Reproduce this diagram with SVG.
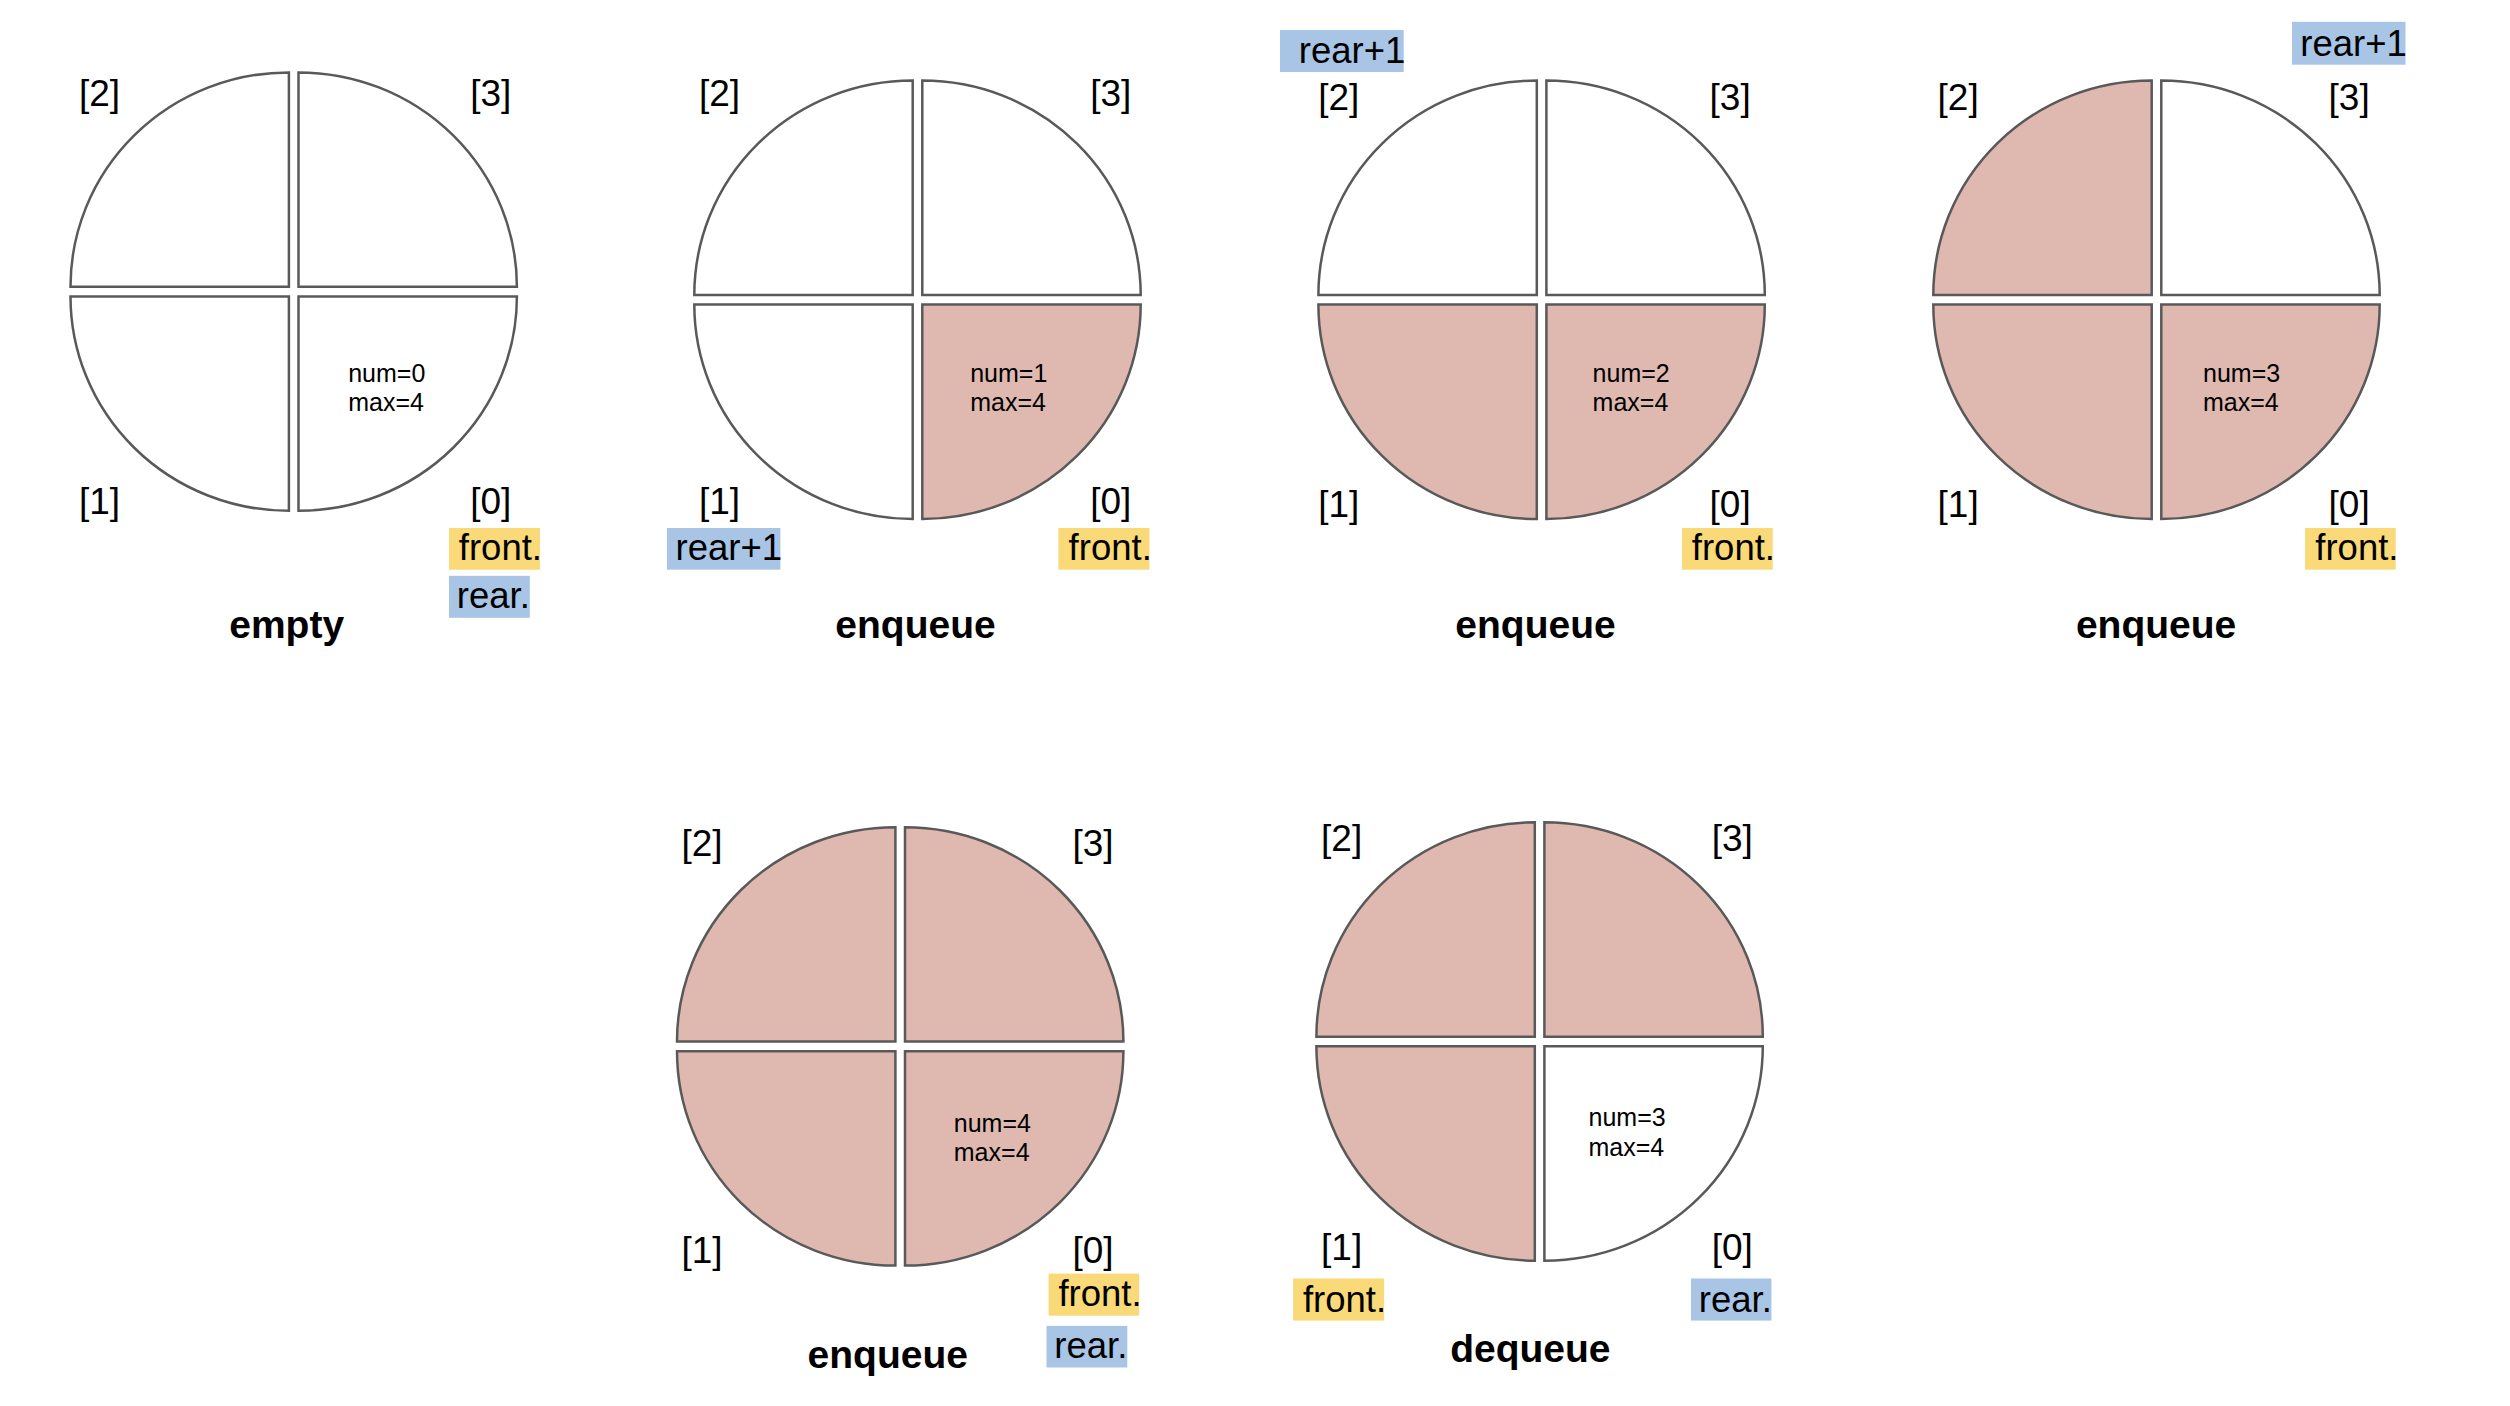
<svg xmlns="http://www.w3.org/2000/svg" xmlns:xlink="http://www.w3.org/1999/xlink" width="2510" height="1406" viewBox="0 0 2510 1406">
<style>
  .q { stroke: #595959; stroke-width: 2.5; stroke-linejoin: miter; }
  .e { fill: #ffffff; }
  .f { fill: #dfb9b0; }
  .idx { font-family: "Liberation Sans", Arial, sans-serif; font-size: 37px; fill: #000; }
  .tag { font-family: "Liberation Sans", Arial, sans-serif; font-size: 36.5px; fill: #000; }
  .info { font-family: "Liberation Sans", Arial, sans-serif; font-size: 25px; fill: #000; }
  .title { font-family: "Liberation Sans", Arial, sans-serif; font-size: 39px; font-weight: bold; fill: #000; text-anchor: middle; }
  .yel { fill: #f9d978; }
  .blu { fill: #a8c5e6; }
</style>
<defs>
  <path id="q-ul" d="M-4.8,-4.8 H-223.2 A218.4 214.4 0 0 1 -4.8,-219.2 Z"/>
  <path id="q-ur" d="M4.8,-4.8 V-219.2 A218.4 214.4 0 0 1 223.2,-4.8 Z"/>
  <path id="q-lr" d="M4.8,4.8 H223.2 A218.4 214.4 0 0 1 4.8,219.2 Z"/>
  <path id="q-ll" d="M-4.8,4.8 V219.2 A218.4 214.4 0 0 1 -223.2,4.8 Z"/>
</defs>
<rect x="0" y="0" width="2510" height="1406" fill="#ffffff"/>
<g id="connectors"/>

<g id="state-empty">
  <g transform="translate(293.7,291.6)">
    <use xlink:href="#q-ul" class="q e"/>
    <use xlink:href="#q-ur" class="q e"/>
    <use xlink:href="#q-ll" class="q e"/>
    <use xlink:href="#q-lr" class="q e"/>
  </g>
  <text class="idx" x="79" y="106">[2]</text>
  <text class="idx" x="470.2" y="106">[3]</text>
  <text class="idx" x="79" y="514">[1]</text>
  <text class="idx" x="470.2" y="514">[0]</text>
  <text class="info" x="348.2" y="381.6">num=0</text>
  <text class="info" x="348.2" y="411">max=4</text>
  <rect class="yel" x="449" y="528" width="91" height="41.7"/>
  <text class="tag" x="458.8" y="559.9">front.</text>
  <rect class="blu" x="449" y="575.8" width="80.8" height="42"/>
  <text class="tag" x="456.8" y="607.5">rear.</text>
  <text class="title" x="286.7" y="638">empty</text>
</g>

<g id="state-enqueue-1">
  <g transform="translate(917.5,299.8)">
    <use xlink:href="#q-ul" class="q e"/>
    <use xlink:href="#q-ur" class="q e"/>
    <use xlink:href="#q-ll" class="q e"/>
    <use xlink:href="#q-lr" class="q f"/>
  </g>
  <text class="idx" x="699" y="106">[2]</text>
  <text class="idx" x="1090.2" y="106">[3]</text>
  <text class="idx" x="699" y="514">[1]</text>
  <text class="idx" x="1090.2" y="514">[0]</text>
  <text class="info" x="970.2" y="381.6">num=1</text>
  <text class="info" x="970.2" y="411">max=4</text>
  <rect class="blu" x="666.9" y="528" width="113.5" height="41.7"/>
  <text class="tag" x="675.6" y="559.9">rear+1</text>
  <rect class="yel" x="1058.4" y="528" width="91" height="41.7"/>
  <text class="tag" x="1068.6" y="559.9">front.</text>
  <text class="title" x="915.5" y="638">enqueue</text>
</g>

<g id="state-enqueue-2">
  <g transform="translate(1541.6,299.8)">
    <use xlink:href="#q-ul" class="q e"/>
    <use xlink:href="#q-ur" class="q e"/>
    <use xlink:href="#q-ll" class="q f"/>
    <use xlink:href="#q-lr" class="q f"/>
  </g>
  <rect class="blu" x="1280" y="30" width="123.7" height="42"/>
  <text class="tag" x="1298.8" y="62.6">rear+1</text>
  <text class="idx" x="1318.2" y="109.5">[2]</text>
  <text class="idx" x="1709.6" y="109.5">[3]</text>
  <text class="idx" x="1318.2" y="517">[1]</text>
  <text class="idx" x="1709.6" y="517">[0]</text>
  <text class="info" x="1592.6" y="381.6">num=2</text>
  <text class="info" x="1592.6" y="411">max=4</text>
  <rect class="yel" x="1682" y="528" width="90.7" height="41.7"/>
  <text class="tag" x="1691.8" y="559.9">front.</text>
  <text class="title" x="1535.5" y="638">enqueue</text>
</g>

<g id="state-enqueue-3">
  <g transform="translate(2156.5,299.8)">
    <use xlink:href="#q-ul" class="q f"/>
    <use xlink:href="#q-ur" class="q e"/>
    <use xlink:href="#q-ll" class="q f"/>
    <use xlink:href="#q-lr" class="q f"/>
  </g>
  <rect class="blu" x="2292" y="21.8" width="113.5" height="42.9"/>
  <text class="tag" x="2300.3" y="55.7">rear+1</text>
  <text class="idx" x="1937.6" y="109.5">[2]</text>
  <text class="idx" x="2328.6" y="109.5">[3]</text>
  <text class="idx" x="1937.6" y="517">[1]</text>
  <text class="idx" x="2328.6" y="517">[0]</text>
  <text class="info" x="2203" y="381.6">num=3</text>
  <text class="info" x="2203" y="411">max=4</text>
  <rect class="yel" x="2305.1" y="528" width="90.6" height="41.7"/>
  <text class="tag" x="2315.3" y="559.9">front.</text>
  <text class="title" x="2156.1" y="638">enqueue</text>
</g>

<g id="state-enqueue-4">
  <g transform="translate(900.2,1046.4)">
    <use xlink:href="#q-ul" class="q f"/>
    <use xlink:href="#q-ur" class="q f"/>
    <use xlink:href="#q-ll" class="q f"/>
    <use xlink:href="#q-lr" class="q f"/>
  </g>
  <text class="idx" x="681.5" y="855.5">[2]</text>
  <text class="idx" x="1072.5" y="855.5">[3]</text>
  <text class="idx" x="681.5" y="1263">[1]</text>
  <text class="idx" x="1072.5" y="1263">[0]</text>
  <text class="info" x="953.8" y="1132.1">num=4</text>
  <text class="info" x="953.8" y="1161.1">max=4</text>
  <rect class="yel" x="1048.6" y="1273.6" width="90.6" height="42.1"/>
  <text class="tag" x="1058.4" y="1305.5">front.</text>
  <rect class="blu" x="1046.5" y="1325.9" width="80.8" height="41.6"/>
  <text class="tag" x="1054.3" y="1358.1">rear.</text>
  <text class="title" x="887.8" y="1367.5">enqueue</text>
</g>

<g id="state-dequeue">
  <g transform="translate(1539.6,1041.5)">
    <use xlink:href="#q-ul" class="q f"/>
    <use xlink:href="#q-ur" class="q f"/>
    <use xlink:href="#q-ll" class="q f"/>
    <use xlink:href="#q-lr" class="q e"/>
  </g>
  <text class="idx" x="1321.1" y="850.5">[2]</text>
  <text class="idx" x="1711.7" y="850.5">[3]</text>
  <text class="idx" x="1321.1" y="1259.5">[1]</text>
  <text class="idx" x="1711.7" y="1259.5">[0]</text>
  <text class="info" x="1588.5" y="1126">num=3</text>
  <text class="info" x="1588.5" y="1155.8">max=4</text>
  <rect class="yel" x="1293.1" y="1278.5" width="91" height="42.1"/>
  <text class="tag" x="1302.9" y="1311.6">front.</text>
  <rect class="blu" x="1691" y="1278.5" width="80.4" height="42.1"/>
  <text class="tag" x="1698.8" y="1311.6">rear.</text>
  <text class="title" x="1530.4" y="1361.5">dequeue</text>
</g>
</svg>
